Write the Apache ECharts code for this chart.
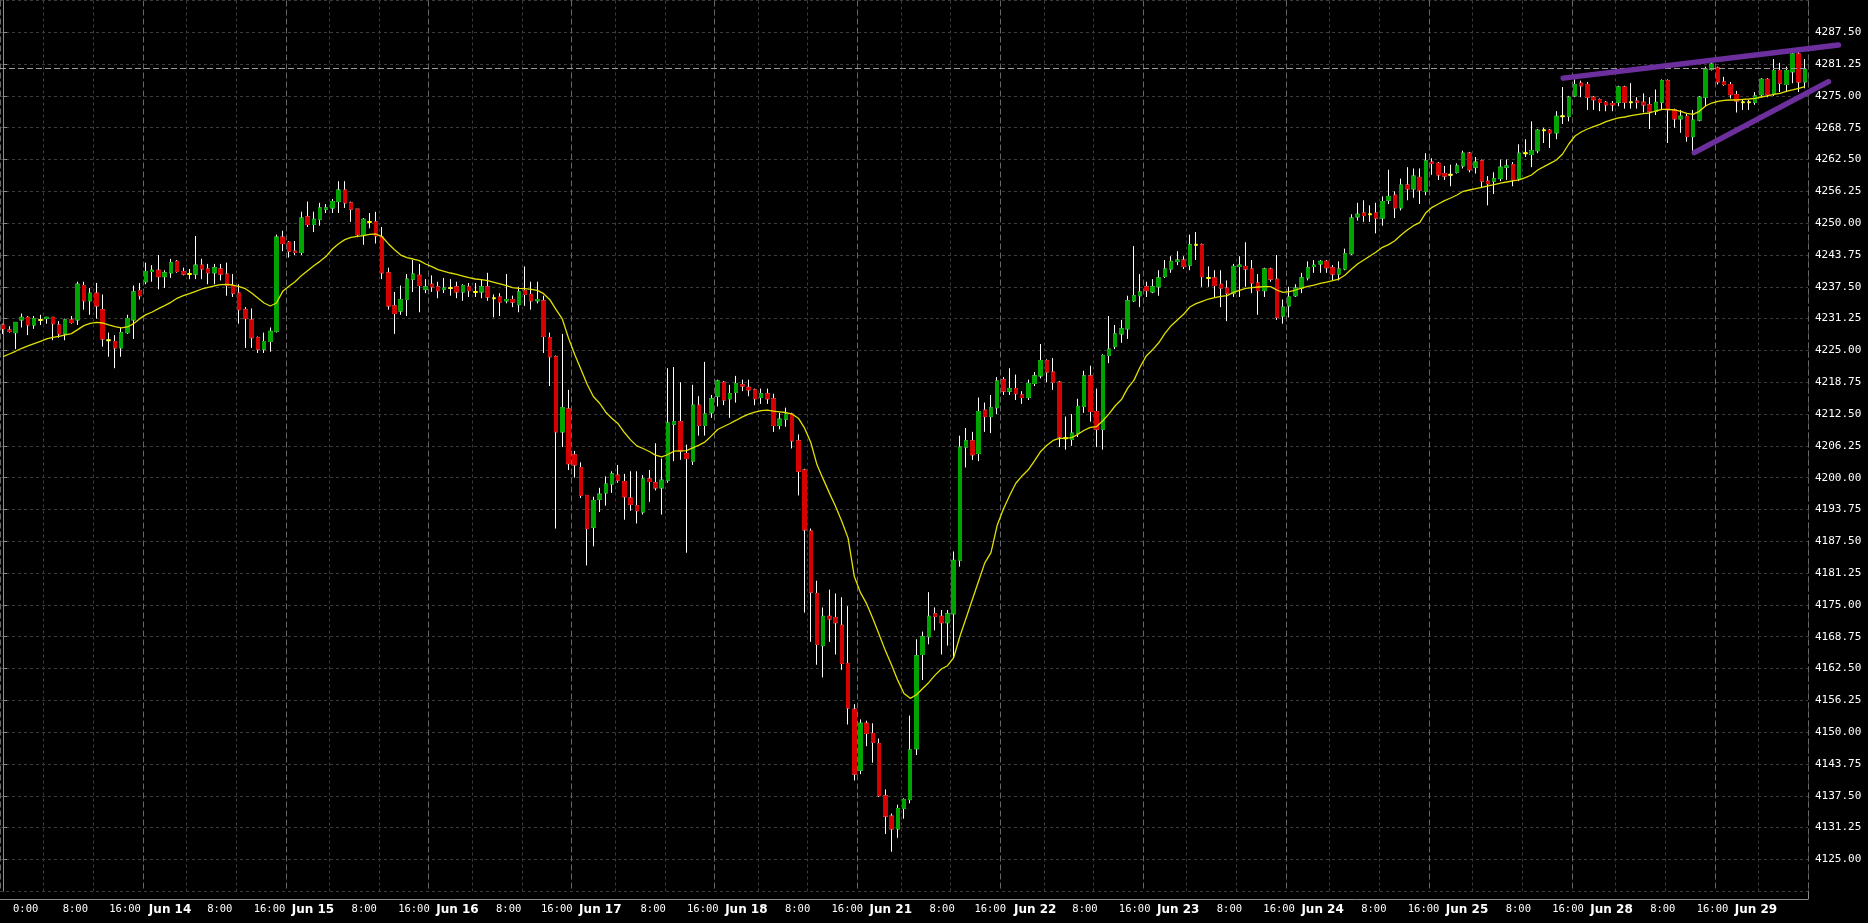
<!DOCTYPE html>
<html><head><meta charset="utf-8">
<script src="https://cdn.jsdelivr.net/npm/echarts@6/dist/echarts.min.js"></script>
<style>html,body{margin:0;padding:0;background:#000;}#c{width:1868px;height:923px;}</style>
</head><body><div id="c"></div>
<script>
// ---- hourly OHLC bars (index 0 .. 290) ----
const openP = [
4230.0,4229.0,4228.5,4231.0,4231.5,4230.0,4231.0,4231.25,4231.5,4230.0,
4228.25,4231.0,4231.0,4237.75,4234.75,4236.25,4233.0,4227.0,4226.75,4225.5,
4228.5,4231.0,4236.75,4238.5,4240.5,4240.75,4239.5,4240.25,4242.5,4240.5,
4240.0,4240.0,4241.75,4241.0,4240.25,4241.0,4240.0,4237.75,4236.25,4233.0,
4231.0,4227.5,4225.25,4226.75,4228.75,4247.25,4246.25,4244.5,4244.25,4251.25,
4249.75,4250.75,4252.75,4253.0,4254.25,4256.5,4254.0,4252.75,4247.75,4250.25,
4250.25,4247.25,4240.25,4233.75,4232.75,4235.0,4239.0,4239.75,4237.0,4238.0,
4237.5,4237.0,4237.25,4237.5,4236.5,4237.5,4236.5,4236.5,4237.5,4235.25,
4235.5,4234.75,4235.0,4234.0,4236.75,4236.0,4234.75,4234.75,4227.5,4223.75,
4209.0,4213.5,4204.5,4202.0,4196.5,4190.25,4195.75,4197.0,4198.75,4200.5,
4199.25,4196.0,4194.5,4193.25,4199.75,4199.0,4198.0,4199.5,4210.5,4211.0,
4204.75,4203.25,4214.25,4210.25,4212.75,4216.0,4218.75,4215.5,4216.75,4218.25,
4217.75,4217.25,4215.75,4216.5,4215.5,4210.25,4211.5,4212.5,4207.25,4201.5,
4189.5,4177.25,4167.0,4172.75,4172.5,4171.0,4163.5,4154.5,4142.5,4151.75,
4149.75,4147.75,4137.5,4133.5,4131.0,4135.0,4136.75,4146.75,4165.25,4168.75,
4173.25,4172.75,4171.5,4173.25,4183.75,4206.0,4207.25,4204.75,4213.25,4212.0,
4213.75,4219.25,4217.0,4217.5,4216.25,4215.75,4218.5,4220.0,4223.0,4220.75,
4218.75,4207.75,4207.5,4208.75,4214.0,4220.0,4213.0,4209.5,4224.0,4225.75,
4228.25,4229.25,4234.75,4235.75,4237.5,4236.5,4237.5,4239.5,4241.0,4242.5,
4242.75,4241.75,4245.75,4245.75,4239.25,4239.25,4238.0,4237.25,4236.25,4241.5,
4241.5,4241.0,4238.25,4236.75,4241.0,4239.0,4231.75,4233.75,4235.75,4237.25,
4239.25,4241.5,4242.0,4242.5,4241.25,4240.0,4241.0,4244.0,4251.25,4252.0,
4251.75,4252.0,4251.0,4254.5,4255.5,4253.0,4257.5,4256.75,4259.0,4256.25,
4262.0,4261.75,4259.75,4259.5,4260.0,4261.25,4263.75,4261.0,4262.25,4258.25,
4258.25,4258.75,4261.0,4261.5,4258.75,4263.75,4263.5,4264.25,4268.25,4268.25,
4267.75,4271.0,4271.0,4275.0,4277.5,4277.25,4274.75,4274.25,4273.75,4273.5,
4273.75,4276.75,4273.75,4274.0,4273.75,4273.25,4272.0,4273.75,4278.0,4272.25,
4270.5,4271.0,4267.0,4270.25,4274.75,4280.25,4280.5,4277.75,4277.25,4275.25,
4273.75,4273.75,4273.75,4275.25,4278.25,4275.5,4280.0,4277.25,4279.75,4283.25,
4277.75];
const highP = [
4230.25,4229.75,4230.5,4232.25,4231.75,4231.75,4232.0,4231.5,4231.5,4230.75,
4231.25,4231.75,4238.5,4238.5,4237.25,4238.25,4236.0,4228.5,4228.0,4229.5,
4232.0,4237.75,4238.25,4242.25,4241.75,4243.75,4240.75,4243.0,4242.75,4241.25,
4241.0,4247.5,4243.0,4242.0,4242.0,4242.0,4242.25,4240.0,4238.0,4233.5,
4233.25,4227.75,4228.5,4229.5,4247.75,4248.5,4246.5,4246.5,4252.25,4254.25,
4252.25,4254.0,4253.75,4254.75,4258.25,4258.25,4254.25,4252.75,4251.0,4252.0,
4252.25,4249.25,4241.25,4236.5,4237.75,4240.0,4242.75,4242.0,4239.0,4239.75,
4238.5,4239.25,4239.0,4238.5,4238.0,4238.25,4238.25,4239.0,4240.25,4236.0,
4236.25,4240.0,4235.75,4237.5,4241.5,4238.5,4238.5,4235.75,4228.5,4224.0,
4228.25,4217.25,4205.25,4203.0,4196.5,4196.25,4198.0,4200.25,4201.25,4202.5,
4200.75,4201.25,4201.25,4200.5,4201.5,4206.75,4203.75,4221.5,4221.75,4218.75,
4206.5,4218.25,4216.0,4222.75,4216.25,4219.25,4219.0,4218.25,4220.0,4219.25,
4219.25,4217.5,4217.5,4217.5,4216.5,4212.75,4213.75,4212.75,4208.5,4201.75,
4190.0,4179.75,4174.5,4178.0,4177.25,4176.5,4174.75,4155.5,4152.5,4152.25,
4151.75,4148.75,4138.75,4134.0,4135.75,4137.0,4153.25,4168.25,4169.75,4177.5,
4174.5,4174.0,4174.0,4185.5,4208.25,4209.75,4209.0,4215.75,4214.75,4216.25,
4219.75,4219.75,4221.5,4220.25,4217.0,4219.25,4220.75,4226.25,4223.25,4223.5,
4219.0,4212.0,4212.5,4215.5,4221.0,4222.0,4217.5,4224.25,4231.75,4230.0,
4231.0,4235.75,4245.5,4240.0,4238.5,4239.0,4240.75,4242.75,4243.5,4244.5,
4243.5,4247.75,4248.25,4246.0,4241.5,4240.75,4240.75,4238.75,4242.0,4243.5,
4246.25,4242.75,4240.0,4241.25,4241.25,4243.75,4235.0,4237.5,4238.0,4240.25,
4242.5,4242.75,4242.75,4242.75,4241.75,4242.5,4245.0,4251.75,4254.0,4254.5,
4253.5,4254.0,4255.25,4260.5,4256.25,4258.75,4261.0,4260.75,4260.75,4263.75,
4262.75,4262.0,4261.25,4261.5,4261.75,4264.25,4264.0,4263.0,4262.5,4259.25,
4260.0,4262.5,4262.5,4262.0,4265.5,4266.5,4270.0,4268.5,4268.75,4268.5,
4272.0,4276.75,4275.0,4278.25,4278.0,4277.75,4275.0,4274.5,4274.0,4274.0,
4277.0,4277.0,4277.5,4274.75,4275.5,4274.75,4276.25,4278.25,4278.25,4272.5,
4272.25,4271.5,4272.25,4275.0,4280.75,4281.75,4280.75,4278.75,4277.75,4276.0,
4274.25,4274.25,4275.75,4278.5,4278.5,4282.25,4281.5,4280.75,4283.5,4283.75,
4282.25];
const lowP = [
4228.25,4228.5,4225.25,4229.5,4228.0,4229.25,4230.0,4230.25,4227.0,4227.5,
4227.0,4230.25,4230.0,4233.0,4232.0,4231.25,4225.75,4223.75,4221.5,4223.75,
4228.25,4227.25,4235.0,4238.0,4238.5,4237.0,4237.25,4239.25,4240.25,4239.75,
4239.0,4239.0,4239.0,4238.0,4238.0,4238.75,4235.75,4235.5,4230.25,4225.5,
4225.5,4224.5,4224.5,4224.75,4228.5,4244.5,4243.25,4243.75,4243.75,4249.25,
4248.25,4249.5,4252.0,4252.0,4252.0,4253.0,4250.25,4247.25,4245.75,4249.0,
4246.0,4239.0,4233.0,4228.25,4232.0,4231.75,4236.5,4232.5,4236.25,4236.5,
4235.25,4236.25,4235.75,4235.25,4234.75,4235.5,4235.5,4235.25,4234.75,4231.5,
4231.75,4234.25,4233.5,4232.5,4233.75,4233.0,4234.25,4224.5,4218.0,4190.0,
4206.0,4201.5,4200.0,4196.0,4182.75,4186.5,4193.25,4194.5,4197.0,4199.0,
4191.75,4193.5,4191.0,4192.75,4195.25,4197.5,4192.75,4199.0,4203.25,4203.5,
4185.25,4202.5,4208.25,4208.25,4211.75,4214.0,4214.25,4211.75,4214.75,4217.0,
4216.0,4214.25,4214.5,4214.5,4209.0,4209.5,4210.0,4205.75,4196.5,4173.5,
4167.75,4163.25,4160.75,4167.75,4165.25,4162.25,4151.5,4140.5,4141.75,4147.25,
4144.0,4137.25,4130.0,4126.5,4129.25,4133.0,4136.0,4145.5,4160.25,4167.25,
4170.0,4165.25,4167.0,4164.5,4182.5,4202.0,4203.5,4203.25,4209.0,4208.75,
4212.5,4216.25,4216.25,4215.25,4214.5,4215.25,4218.0,4219.5,4218.75,4217.25,
4206.0,4205.5,4206.25,4208.0,4212.75,4211.0,4206.0,4205.5,4222.5,4225.25,
4226.5,4227.25,4234.5,4233.5,4235.5,4236.25,4235.75,4239.25,4240.25,4241.75,
4241.0,4240.75,4242.75,4237.5,4237.5,4235.5,4233.5,4230.75,4235.5,4235.5,
4237.5,4236.25,4232.0,4235.5,4238.5,4231.0,4230.25,4231.5,4235.5,4236.25,
4238.75,4240.25,4240.25,4240.25,4238.75,4238.75,4240.75,4243.75,4250.5,4250.25,
4250.25,4248.0,4249.5,4253.75,4251.0,4252.5,4254.5,4255.0,4253.75,4255.5,
4259.5,4258.5,4258.5,4257.25,4259.75,4260.75,4260.0,4259.75,4257.0,4253.5,
4255.75,4258.25,4258.5,4257.25,4258.25,4263.0,4261.0,4263.75,4265.75,4264.75,
4266.5,4269.5,4270.0,4274.75,4274.75,4272.25,4272.25,4272.0,4272.0,4272.0,
4273.0,4272.5,4272.5,4272.5,4271.75,4268.5,4271.25,4272.25,4265.75,4268.75,
4267.75,4266.0,4264.25,4270.0,4273.0,4280.0,4277.25,4277.0,4274.5,4271.75,
4272.25,4272.25,4273.25,4274.75,4274.75,4275.0,4275.75,4275.75,4277.5,4275.75,
4276.5];
const closeP = [
4229.25,4228.75,4230.5,4231.5,4230.0,4231.25,4231.0,4231.5,4230.25,4228.25,
4231.0,4230.5,4238.0,4234.75,4236.25,4233.75,4227.25,4227.0,4225.5,4228.5,
4231.25,4236.5,4235.75,4240.5,4240.75,4239.5,4240.25,4242.25,4240.5,4240.0,
4240.0,4241.75,4241.0,4240.25,4241.25,4240.0,4237.75,4236.25,4233.0,4231.25,
4227.5,4225.25,4226.75,4228.75,4247.25,4246.0,4244.5,4244.25,4251.0,4249.75,
4250.75,4253.0,4253.0,4254.25,4256.5,4254.0,4252.75,4247.75,4250.75,4250.25,
4247.5,4240.25,4233.75,4232.25,4235.0,4239.0,4240.0,4237.75,4237.5,4237.5,
4236.75,4237.25,4237.25,4236.5,4237.75,4236.75,4236.5,4237.5,4235.5,4235.25,
4234.5,4235.0,4234.5,4236.5,4236.0,4234.75,4235.0,4227.75,4223.75,4209.0,
4213.75,4202.75,4202.5,4196.5,4190.0,4195.5,4196.75,4198.75,4200.75,4199.5,
4196.25,4194.75,4193.5,4199.75,4199.25,4198.0,4199.5,4210.75,4211.0,4205.25,
4203.75,4214.25,4210.25,4212.5,4215.5,4219.0,4215.25,4216.5,4218.5,4218.0,
4217.25,4215.5,4216.5,4215.5,4210.25,4211.5,4212.5,4207.25,4201.25,4189.75,
4177.5,4167.25,4172.75,4172.25,4171.5,4163.5,4154.75,4141.75,4151.75,4149.75,
4148.0,4137.5,4133.5,4131.0,4135.0,4136.75,4146.5,4165.0,4168.75,4172.75,
4172.75,4171.5,4173.25,4183.75,4206.0,4207.25,4204.5,4213.0,4212.0,4213.75,
4219.0,4217.0,4217.5,4216.5,4215.75,4218.5,4220.0,4223.0,4220.75,4218.75,
4208.0,4207.75,4208.75,4214.0,4220.0,4213.0,4209.5,4224.0,4225.25,4228.25,
4229.25,4234.75,4235.75,4236.5,4236.75,4237.5,4239.25,4241.0,4242.5,4242.75,
4241.5,4245.75,4245.75,4239.5,4239.25,4237.75,4237.25,4236.25,4241.5,4241.75,
4241.0,4238.25,4236.75,4241.0,4239.0,4231.5,4233.5,4235.5,4237.25,4239.25,
4241.25,4241.75,4242.5,4241.25,4240.0,4241.0,4244.0,4251.0,4251.75,4251.5,
4251.75,4251.0,4254.25,4255.25,4253.0,4257.5,4256.75,4259.25,4256.5,4262.25,
4261.75,4259.5,4259.25,4259.5,4261.25,4263.75,4260.5,4262.0,4258.25,4257.75,
4258.75,4261.0,4261.25,4258.5,4263.75,4263.75,4264.25,4268.25,4268.25,4267.75,
4271.0,4271.0,4274.75,4277.25,4277.0,4274.75,4274.25,4273.75,4273.25,4273.25,
4276.75,4273.75,4273.75,4273.75,4273.25,4272.0,4273.75,4278.0,4272.25,4270.5,
4271.0,4267.0,4270.25,4274.75,4280.25,4281.25,4277.75,4277.25,4275.25,4274.0,
4273.75,4273.75,4275.0,4278.25,4275.25,4280.0,4277.5,4280.0,4283.25,4277.75,
4280.25];
// ---- moving average (yellow line), read per bar ----
const maLine = [
4223.78,4224.3,4224.83,4225.42,4225.88,4226.34,4226.79,4227.25,4227.58,4227.78,
4228.04,4228.3,4229.08,4229.87,4230.33,4230.52,4230.39,4230.0,4229.67,4229.41,
4229.61,4230.26,4231.24,4232.03,4232.55,4233.21,4233.8,4234.45,4235.24,4235.76,
4236.15,4236.61,4237.07,4237.4,4237.66,4237.92,4237.99,4237.85,4237.53,4237.13,
4236.28,4235.3,4234.32,4233.73,4234.32,4236.61,4237.59,4238.5,4239.69,4240.67,
4241.65,4242.5,4243.48,4244.92,4245.97,4246.76,4247.21,4247.41,4247.54,4247.8,
4247.87,4247.34,4245.97,4244.79,4243.74,4243.22,4242.96,4242.63,4241.98,4241.45,
4240.87,4240.54,4240.21,4239.95,4239.62,4239.29,4239.03,4238.9,4238.7,4238.38,
4238.05,4237.72,4237.33,4237.2,4237.13,4237.0,4236.81,4236.15,4234.97,4233.01,
4231.18,4227.45,4224.18,4221.3,4218.35,4215.94,4214.63,4212.86,4211.62,4210.57,
4208.87,4207.43,4206.25,4205.73,4205.14,4204.42,4204.09,4204.55,4205.2,4205.27,
4205.33,4205.86,4206.38,4207.04,4208.21,4209.46,4210.05,4210.64,4211.29,4211.95,
4212.47,4212.86,4213.19,4213.25,4213.06,4212.93,4212.8,4212.47,4211.68,4209.72,
4206.9,4202.52,4199.71,4196.96,4194.34,4191.39,4188.12,4180.59,4177.4,4175.2,
4172.3,4169.2,4166.02,4163.21,4160.17,4157.6,4156.64,4157.36,4158.56,4159.77,
4161.21,4162.41,4163.05,4164.66,4168.83,4172.43,4176.05,4179.65,4183.26,4185.27,
4190.64,4193.85,4196.49,4198.9,4200.34,4201.54,4203.31,4205.15,4206.36,4207.32,
4207.72,4207.72,4207.88,4208.52,4209.32,4209.88,4210.04,4211.17,4212.53,4214.13,
4215.34,4217.58,4219.11,4221.75,4223.92,4225.12,4226.5,4228.36,4229.86,4230.98,
4232.09,4233.53,4234.19,4234.65,4235.1,4235.37,4235.63,4235.76,4236.41,4236.81,
4237.2,4237.33,4237.46,4237.53,4237.53,4236.87,4236.41,4236.54,4236.87,4237.26,
4237.59,4237.85,4238.18,4238.44,4238.71,4239.03,4239.82,4240.93,4241.98,4242.77,
4243.55,4244.34,4245.25,4245.78,4246.56,4247.68,4248.66,4249.51,4250.1,4252.07,
4253.11,4253.77,4254.42,4254.95,4255.54,4256.26,4256.52,4256.78,4257.04,4257.31,
4257.57,4257.89,4258.09,4258.29,4258.49,4258.94,4259.47,4260.45,4261.1,4261.76,
4262.41,4263.59,4265.56,4267.13,4267.92,4268.5,4268.96,4269.42,4269.95,4270.34,
4270.67,4270.86,4271.12,4271.32,4271.52,4271.65,4272.04,4272.37,4272.37,4272.24,
4271.98,4271.58,4271.39,4271.98,4273.02,4273.61,4273.94,4274.14,4274.2,4274.2,
4274.33,4274.4,4274.53,4274.79,4274.99,4275.32,4275.51,4275.9,4276.17,4276.5,
4276.82];
// ---- time axis labels and the bar (fractional) where each is centred ----
const timeLabels = ["0:00","8:00","16:00","Jun 14","8:00","16:00","Jun 15","8:00","16:00","Jun 16",
  "8:00","16:00","Jun 17","8:00","16:00","Jun 18","8:00","16:00","Jun 21","8:00","16:00","Jun 22",
  "8:00","16:00","Jun 23","8:00","16:00","Jun 24","8:00","16:00","Jun 25","8:00","16:00","Jun 28",
  "8:00","16:00","Jun 29"];
const timeLabelBars = [3.5,11.7,19.6,26.8,34.9,42.9,49.9,58.0,66.0,73.2,81.4,89.2,96.2,104.6,112.5,
  119.5,127.8,135.8,142.8,151.0,158.9,166.1,174.1,182.1,189.2,197.4,205.3,212.3,220.6,228.6,235.5,
  243.8,251.8,258.9,267.0,275.1,282.2];
// session structure: 23 hourly bars per day, grid at 0:00 / 8:00 / 16:00
const barsPerDay = 23;
const intraDayGridBars = [7, 15];
// price scale
const priceMin = 4118.75, priceMax = 4293.75, priceStep = 6.25;
// bid price line
const bidPrice = 4280.5;
// hand-drawn trend lines, [bar, price]
const upperTrend = [[251.1, 4278.5], [295.4, 4285.0]];
const lowerTrend = [[272.2, 4263.85], [293.8, 4277.8]];

const N = closeP.length;
[openP, highP, lowP, maLine].forEach((a, j) => { if (a.length !== N) throw new Error('length mismatch ' + j + ': ' + a.length + ' vs ' + N); });

const cats = closeP.map((_, i) => String(i));
const isDoji = i => openP[i] === closeP[i];
const wickData = closeP.map((c, i) => [openP[i], c, lowP[i], highP[i]]);
const bodyData = closeP.map((c, i) => isDoji(i) ? '-' : [openP[i], c, Math.min(openP[i], c), Math.max(openP[i], c)]);
const dojiData = closeP.map((c, i) => isDoji(i) ? [c, c, c, c] : '-');

const SUB = 4;
const labelCats = [];
for (let i = 0; i < N * SUB; i++) labelCats.push('s' + i);
const labelMap = {};
timeLabels.forEach((t, j) => { labelMap['s' + Math.round(SUB * timeLabelBars[j] + (SUB - 1) / 2)] = t; });

const GREEN = '#00a400', RED = '#d60000', PURPLE = '#6e2f9e', AXIS = '#8c8c8c';
const X_OFFSET = 8;
const chart = echarts.init(document.getElementById('c'), null, { renderer: 'canvas' });
chart.setOption({
  backgroundColor: '#000000',
  animation: false,
  grid: { left: 0, right: 60, top: 0.5, bottom: 31.8 },
  xAxis: [
    { type: 'category', data: cats, position: 'bottom', offset: X_OFFSET,
      axisLine: { show: true, lineStyle: { color: AXIS, width: 1 } },
      axisTick: { show: false }, axisLabel: { show: false },
      splitLine: { show: true, interval: (i) => intraDayGridBars.includes(i % barsPerDay),
        lineStyle: { color: '#3b3b3b', type: [3, 3], width: 1 } } },
    { type: 'category', data: cats, position: 'bottom',
      axisLine: { show: false }, axisTick: { show: false }, axisLabel: { show: false },
      splitLine: { show: true, interval: (i) => i % barsPerDay === 0,
        lineStyle: { color: '#666666', type: [6, 3], width: 1 } } },
    { type: 'category', data: labelCats, position: 'bottom', offset: X_OFFSET,
      axisLine: { show: false }, axisTick: { show: false }, splitLine: { show: false },
      axisLabel: { show: true, interval: (i, v) => labelMap[v] !== undefined, margin: 5,
        formatter: (v) => { const t = labelMap[v] || ''; return t.startsWith('Jun') ? '{d|' + t + '}' : '{t|' + t + '}'; },
        rich: { d: { fontFamily: 'DejaVu Sans', fontWeight: 'bold', fontSize: 12, color: '#ffffff' },
                t: { fontFamily: 'DejaVu Sans Mono', fontSize: 10.5, color: '#ffffff' } } } },
    { type: 'value', min: -0.5, max: N - 0.5, show: false }
  ],
  yAxis: {
    type: 'value', position: 'right', min: priceMin, max: priceMax, interval: priceStep, scale: true,
    axisLine: { show: true, lineStyle: { color: AXIS } },
    axisTick: { show: true, length: 4, lineStyle: { color: AXIS } },
    axisLabel: { showMinLabel: false, showMaxLabel: false, margin: 7, color: '#ffffff',
      fontFamily: 'DejaVu Sans Mono', fontSize: 11, formatter: (v) => v.toFixed(2) },
    splitLine: { show: true, lineStyle: { color: '#3b3b3b', type: [3, 3], width: 1 } }
  },
  series: [
    { name: 'wick', type: 'candlestick', xAxisIndex: 0, data: wickData, barWidth: 4, z: 2,
      itemStyle: { color: '#ffffff', color0: '#ffffff', borderColor: '#ffffff', borderColor0: '#ffffff', borderColorDoji: '#ffffff', borderWidth: 1 },
      markLine: { silent: true, symbol: ['none', 'none'], label: { show: false },
        lineStyle: { color: '#9a9a9a', type: [6, 3], width: 1 },
        data: [{ yAxis: bidPrice }] } },
    { name: 'body', type: 'candlestick', xAxisIndex: 0, data: bodyData, barWidth: 4, z: 3,
      itemStyle: { color: GREEN, color0: RED, borderColor: GREEN, borderColor0: RED, borderWidth: 1 } },
    { name: 'doji', type: 'candlestick', xAxisIndex: 0, data: dojiData, barWidth: 4, z: 4,
      itemStyle: { color: '#ffff00', color0: '#ffff00', borderColor: '#ffff00', borderColor0: '#ffff00', borderColorDoji: '#ffff00', borderWidth: 2 } },
    { name: 'MA', type: 'line', xAxisIndex: 0, data: maLine, symbol: 'none', z: 5,
      lineStyle: { color: '#e0e000', width: 1.3 } }
  ]
});

// Trend lines may run past the last bar into the price-scale margin, so they are
// drawn as graphics whose ends are converted from [bar, price] through the chart's scales.
function toPx(p) { return chart.convertToPixel({ xAxisIndex: 3, yAxisIndex: 0 }, p); }
function trend(pair) {
  const a = toPx(pair[0]), b = toPx(pair[1]);
  return { type: 'line', z: 100, silent: true,
    shape: { x1: a[0], y1: a[1], x2: b[0], y2: b[1] },
    style: { stroke: PURPLE, lineWidth: 5.5, lineCap: 'round' } };
}
// extend the price axis line down to the (offset) time axis line
const axisBottom = chart.convertToPixel({ xAxisIndex: 3, yAxisIndex: 0 }, [N - 0.5, priceMin]);
chart.setOption({ graphic: [
  trend(upperTrend), trend(lowerTrend),
  { type: 'line', silent: true, z: 50,
    shape: { x1: Math.round(axisBottom[0]) + 0.5, y1: axisBottom[1], x2: Math.round(axisBottom[0]) + 0.5, y2: axisBottom[1] + X_OFFSET },
    style: { stroke: AXIS, lineWidth: 1 } }
] });
</script>
</body></html>
